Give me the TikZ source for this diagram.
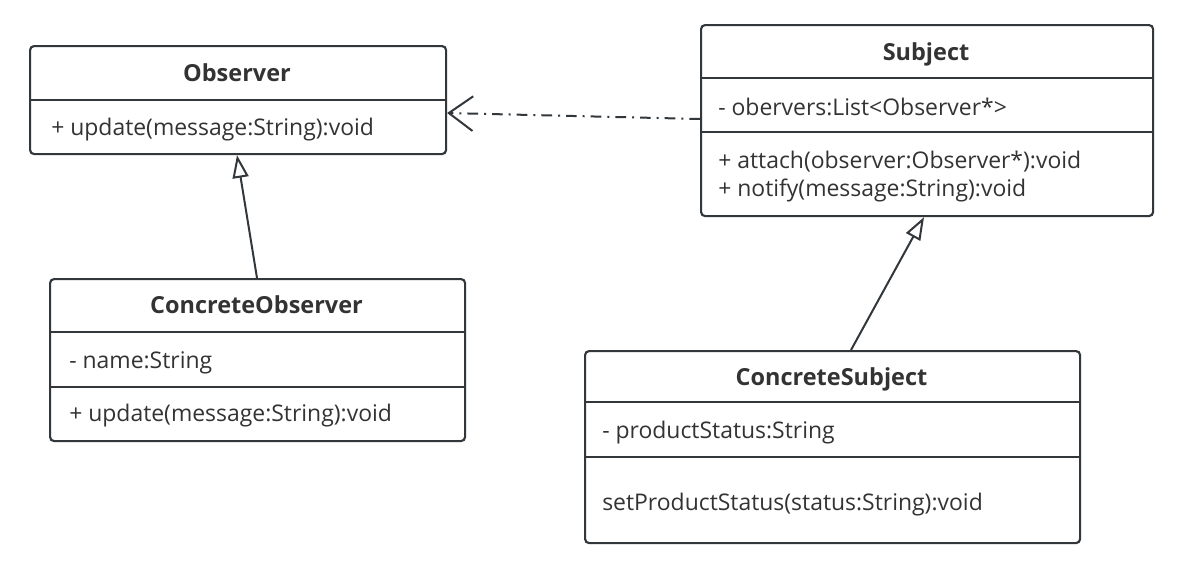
\documentclass[tikz,border=0pt]{standalone}
\usepackage{fontspec}
\setmainfont{Open Sans}
\usetikzlibrary{arrows.meta}
\definecolor{ink}{HTML}{32373B}
\definecolor{txt}{HTML}{333333}
\begin{document}
\begin{tikzpicture}[x=0.75pt,y=-0.75pt,
 umlbox/.style={draw=ink, line width=1.6pt, rounded corners=3pt, fill=white, anchor=north west, inner sep=0pt},
 sepline/.style={draw=ink, line width=1.5pt},
 title/.style={font=\fontsize{17.6}{20}\selectfont\bfseries, text=txt, anchor=base, inner sep=0pt},
 member/.style={font=\fontsize{17.2}{20}\selectfont, text=txt, anchor=base west, inner sep=0pt},
 inherit/.style={draw=ink, line width=1.5pt, -{Triangle[open, length=17pt, width=12pt, fill=white]}},
 depend/.style={draw=ink, line width=1.5pt, dash pattern=on 8pt off 4.5pt on 1.5pt off 4.5pt, -{Straight Barb[length=18pt, width=26pt]}}]
\fill[white] (0,0) rectangle (1180,579);
\useasboundingbox (0,0) rectangle (1180,579);
% Observer
\node[umlbox, minimum width=0.75pt*416, minimum height=0.75pt*108] (obs) at (29,45) {};
\coordinate (y100) at (0,100);
\draw[sepline] (obs.west |- y100) -- (obs.east |- y100);
\node[title] (obsT) at (237,81) {Observer};
\node[member] (obsM) at (51,135) {+ update(message:String):void};
% Subject
\node[umlbox, minimum width=0.75pt*452, minimum height=0.75pt*191] (sub) at (700,24) {};
\coordinate (y78) at (0,78);
\coordinate (y132) at (0,132);
\draw[sepline] (sub.west |- y78) -- (sub.east |- y78);
\draw[sepline] (sub.west |- y132) -- (sub.east |- y132);
\node[title] (subT) at (926,60) {Subject};
\node[member] (subA) at (718,115) {- obervers:List<Observer*>};
\node[member] (subM1) at (718,168) {+ attach(observer:Observer*):void};
\node[member] (subM2) at (718,196) {+ notify(message:String):void};
% ConcreteObserver
\node[umlbox, minimum width=0.75pt*415, minimum height=0.75pt*162] (cobs) at (49,278) {};
\coordinate (y332) at (0,332);
\coordinate (y387) at (0,387);
\draw[sepline] (cobs.west |- y332) -- (cobs.east |- y332);
\draw[sepline] (cobs.west |- y387) -- (cobs.east |- y387);
\node[title] (cobsT) at (256.5,313) {ConcreteObserver};
\node[member] (cobsA) at (69,368) {- name:String};
\node[member] (cobsM) at (69,421) {+ update(message:String):void};
% ConcreteSubject
\node[umlbox, minimum width=0.75pt*495, minimum height=0.75pt*192] (csub) at (584,350) {};
\coordinate (y402) at (0,402);
\coordinate (y457) at (0,457);
\draw[sepline] (csub.west |- y402) -- (csub.east |- y402);
\draw[sepline] (csub.west |- y457) -- (csub.east |- y457);
\node[title] (csubT) at (831.5,385) {ConcreteSubject};
\node[member] (csubA) at (602,438) {- productStatus:String};
\node[member] (csubM) at (602,510) {setProductStatus(status:String):void};
% connectors
\coordinate (x257) at (257,0);
\coordinate (x237) at (237,0);
\coordinate (x851) at (851,0);
\coordinate (x924) at (924,0);
\coordinate (y119) at (0,119);
\coordinate (y113) at (0,113);
\draw[inherit] (cobs.north -| x257) -- (obs.south -| x237);
\draw[inherit] (csub.north -| x851) -- (sub.south -| x924);
\draw[depend] (sub.west |- y119) -- (obs.east |- y113);
\end{tikzpicture}
\end{document}
